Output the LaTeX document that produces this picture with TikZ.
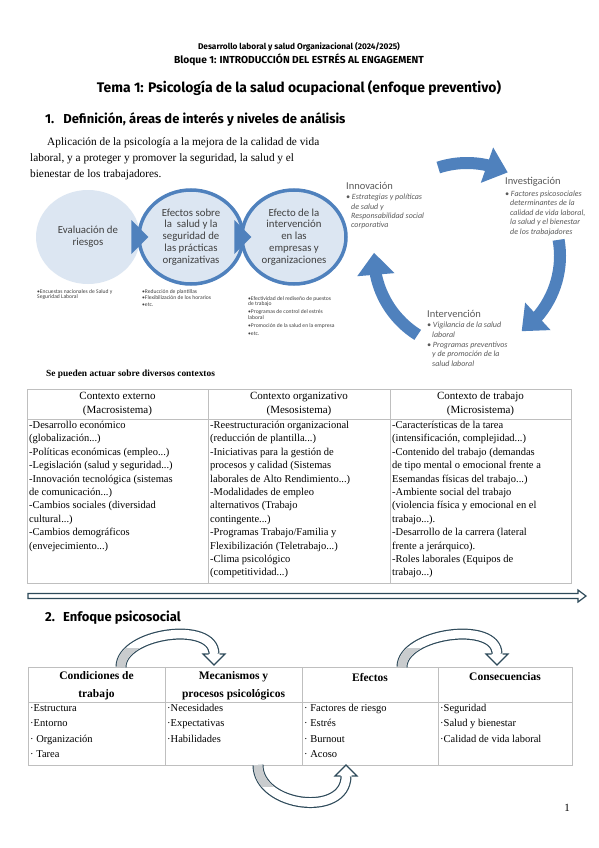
\documentclass[tikz,border=0pt]{standalone}
\usepackage{fontspec}
\setmainfont{Liberation Serif}
\newfontfamily\calibri{Carlito}
\newfontfamily\headfont{Fira Sans}
\usetikzlibrary{positioning,arrows.meta,bending,calc,shapes.geometric}
\definecolor{ringblue}{HTML}{4F81BD}
\definecolor{circfill}{HTML}{DCE6F2}
\definecolor{smarttext}{HTML}{404040}
\definecolor{cycletext}{HTML}{595959}
\definecolor{rulegray}{HTML}{BFBFBF}
\definecolor{slate}{HTML}{2E4A5A}
\definecolor{bandgray}{HTML}{C9CCCE}

\tikzset{
  stage/.style={ellipse, minimum width=104pt, minimum height=94pt, inner sep=0pt,
    fill=circfill, text=smarttext, align=center, font=\calibri\fontsize{10.8}{11.9}\selectfont},
  ringstage/.style={stage, draw=ringblue, line width=3.5pt},
  stagenote/.style={anchor=north west, inner sep=0pt, align=left, text=smarttext,
    font=\calibri\fontsize{5.6}{5.9}\selectfont},
  cyclearrow/.style={draw=ringblue, line width=12pt, -{Triangle[width=36pt,length=22pt]}},
  cyclehead/.style={anchor=west, inner sep=0pt, text=cycletext, font=\calibri\fontsize{10.5}{12}\selectfont},
  cyclenote/.style={anchor=north west, inner sep=0pt, align=left, text=cycletext,
    font=\calibri\itshape\fontsize{8}{9.4}\selectfont},
  tablerule/.style={draw=rulegray, line width=0.6pt},
  colhead/.style={align=center, inner sep=0pt, font=\fontsize{11}{14}\selectfont},
  colbody/.style={anchor=north west, align=left, inner sep=0pt, font=\fontsize{10.5}{13.4}\selectfont},
  psyhead/.style={align=center, inner sep=0pt, font=\bfseries\fontsize{11.5}{18}\selectfont},
  psybody/.style={anchor=north west, align=left, inner sep=0pt, font=\fontsize{10.5}{15.5}\selectfont},
  bandline/.style={draw=slate, line width=11pt},
  bandfill/.style={draw=white, line width=8.6pt},
  bandback/.style={draw=bandgray, line width=8.6pt},
}

\begin{document}
\begin{tikzpicture}[x=1pt,y=1pt]
\useasboundingbox[fill=white] (0,0) rectangle (599,-848);

% titles
\node[font=\headfont\bfseries\fontsize{8.3}{9}\selectfont] (curso) at (299,-47)
  {Desarrollo laboral y salud Organizacional (2024/2025)};
\node[font=\headfont\bfseries\fontsize{10.2}{11}\selectfont] (bloque) at (299,-60)
  {Bloque 1: INTRODUCCIÓN DEL ESTRÉS AL ENGAGEMENT};
\node[font=\headfont\bfseries\fontsize{13.9}{15}\selectfont] (tema) at (299,-88)
  {Tema 1: Psicología de la salud ocupacional (enfoque preventivo)};
\node[anchor=west, inner sep=0pt, font=\headfont\bfseries\fontsize{13}{14}\selectfont] (sec1) at (45,-120)
  {1.\hspace{9pt}Definición, áreas de interés y niveles de análisis};

\node[anchor=north west, align=left, inner sep=0pt, font=\fontsize{11.3}{16}\selectfont] (definicion) at (30,-137)
  {\hspace*{17pt}Aplicación de la psicología a la mejora de la calidad de vida\\
   laboral, y a proteger y promover la seguridad, la salud y el\\
   bienestar de los trabajadores.};

% niveles de analisis
\node[stage] (riesgos) at (88,-237) {Evaluación de\\riesgos};
\node[ringstage] (practicas) at (191,-237)
  {Efectos sobre\\la\ \ salud y la\\seguridad de\\las prácticas\\organizativas};
\node[ringstage] (empresas) at (294,-237)
  {Efecto de la\\intervención\\en las\\empresas y\\organizaciones};
\fill[ringblue] ($(practicas.west)+(-6,17)$) -- ($(practicas.west)+(11,0)$) -- ($(practicas.west)+(-6,-17)$) -- cycle;
\fill[ringblue] ($(empresas.west)+(-6,17)$) -- ($(empresas.west)+(11,0)$) -- ($(empresas.west)+(-6,-17)$) -- cycle;

\node[stagenote] (encuestas) at (37,-289) {•Encuestas nacionales de Salud y\\Seguridad Laboral};
\node[stagenote] (plantillas) at (142,-289)
  {•Reducción de plantillas\\[1pt]•Flexibilización de los horarios\\[1pt]•etc.};
\node[stagenote] (rediseno) at (248,-296)
  {•Efectividad del rediseño de puestos\\de trabajo\\[2pt]•Programas de control del estrés\\laboral\\[2pt]
   •Promoción de la salud en la empresa\\[2pt]•etc.};

% ciclo
\coordinate (ciclo) at (467,-256);
\draw[cyclearrow] ($(ciclo)+(108:93)$) arc[start angle=108, end angle=64, radius=93];
\draw[cyclearrow] ($(ciclo)+(10:93)$) arc[start angle=10, end angle=-54, radius=93];
\draw[cyclearrow] ($(ciclo)+(238:93)$) arc[start angle=238, end angle=178, radius=93];

\node[cyclehead] (innovacion) at (346,-186) {Innovación};
\node[cyclenote, below right=4pt and 0pt of innovacion.south west]
  (estrategias) {• Estrategias y políticas\\\hspace*{5pt}de salud y\\\hspace*{5pt}Responsabilidad social\\\hspace*{5pt}corporativa};
\node[cyclehead] (investigacion) at (505,-182) {Investigación};
\node[cyclenote, below right=4pt and 0pt of investigacion.south west]
  (factores) {• Factores psicosociales\\\hspace*{5pt}determinantes de la\\\hspace*{5pt}calidad de vida laboral,\\
  \hspace*{5pt}la salud y el bienestar\\\hspace*{5pt}de los trabajadores};
\node[cyclehead] (intervencion) at (427,-314) {Intervención};
\node[cyclenote, below right=4pt and 0pt of intervencion.south west]
  (vigilancia) {• Vigilancia de la salud\\\hspace*{5pt}laboral\\[1pt]• Programas preventivos\\
  \hspace*{5pt}y de promoción de la\\\hspace*{5pt}salud laboral};

% contextos
\node[anchor=west, inner sep=0pt, font=\bfseries\fontsize{9.4}{11}\selectfont] (contextos) at (46,-374)
  {Se pueden actuar sobre diversos contextos};

\draw[tablerule] (27,-389) rectangle (571,-583);
\draw[tablerule] (27,-419) -- (571,-419);
\draw[tablerule] (208,-389) -- (208,-583);
\draw[tablerule] (390,-389) -- (390,-583);

\node[colhead] (macro) at (117.5,-404) {Contexto externo\\(Macrosistema)};
\node[colhead] (meso) at (299,-404) {Contexto organizativo\\(Mesosistema)};
\node[colhead] (micro) at (480.5,-404) {Contexto de trabajo\\(Microsistema)};

\node[colbody] (externo) at (29,-421)
  {-Desarrollo económico\\(globalización...)\\-Políticas económicas (empleo...)\\
   -Legislación (salud y seguridad...)\\-Innovación tecnológica (sistemas\\
   de comunicación...)\\-Cambios sociales (diversidad\\cultural...)\\
   -Cambios demográficos\\(envejecimiento...)};
\node[colbody] (organizativo) at (210,-421)
  {-Reestructuración organizacional\\(reducción de plantilla...)\\
   -Iniciativas para la gestión de\\procesos y calidad (Sistemas\\
   laborales de Alto Rendimiento...)\\-Modalidades de empleo\\alternativos (Trabajo\\
   contingente...)\\-Programas Trabajo/Familia y\\Flexibilización (Teletrabajo...)\\
   -Clima psicológico\\(competitividad...)};
\node[colbody] (trabajo) at (392,-421)
  {-Características de la tarea\\(intensificación, complejidad...)\\
   -Contenido del trabajo (demandas\\de tipo mental o emocional frente a\\
   Esemandas físicas del trabajo...)\\-Ambiente social del trabajo\\
   (violencia física y emocional en el\\trabajo...).\\
   -Desarrollo de la carrera (lateral\\frente a jerárquico).\\
   -Roles laborales (Equipos de\\trabajo...)};

\draw[slate, line width=1.2pt, fill=white] (28,-593.5) -- (578,-593.5) -- (578,-590)
  -- (586,-596) -- (578,-602) -- (578,-598.5) -- (28,-598.5) -- cycle;

% enfoque psicosocial
\node[anchor=west, inner sep=0pt, font=\headfont\bfseries\fontsize{13}{14}\selectfont] (sec2) at (45,-618)
  {2.\hspace{8pt}Enfoque psicosocial};

\draw[tablerule] (28,-667) rectangle (572,-765);
\draw[tablerule] (28,-702) -- (572,-702);
\foreach \x in {165,302,438} \draw[tablerule] (\x,-667) -- (\x,-765);

\node[psyhead] (condiciones) at (96.5,-686) {Condiciones de\\trabajo};
\node[psyhead] (mecanismos) at (233.5,-686) {Mecanismos y\\procesos psicológicos};
\node[psyhead] (efectos) at (370,-677) {Efectos};
\node[psyhead] (consecuencias) at (505,-677) {Consecuencias};

\node[psybody] (estructura) at (30,-704) {·Estructura\\·Entorno\\· Organización\\· Tarea};
\node[psybody] (necesidades) at (167,-704) {·Necesidades\\·Expectativas\\·Habilidades};
\node[psybody] (riesgo) at (304,-704) {· Factores de riesgo\\· Estrés\\· Burnout\\· Acoso};
\node[psybody] (seguridad) at (440,-704) {·Seguridad\\·Salud y bienestar\\·Calidad de vida laboral};

% flechas curvas
\coordinate (c1a) at (121,-667);
\coordinate (c1b) at (214,-654);
\coordinate (c2a) at (402,-667);
\coordinate (c2b) at (497,-654);
\coordinate (c3a) at (258,-765);
\coordinate (c3b) at (346,-776);

\draw[bandline] (c1a) .. controls +(0,34) and +(0,34) .. (c1b);
\draw[bandfill] (c1a) .. controls +(0,34) and +(0,34) .. (c1b);
\begin{scope}
\clip (100,-667) rectangle (140,-648);
\draw[bandback] (c1a) .. controls +(0,34) and +(0,34) .. (c1b);
\end{scope}
\fill[white] ($(c1b)+(-11,0)$) -- ($(c1b)+(0,-11)$) -- ($(c1b)+(11,0)$) -- cycle;
\draw[slate, line width=1.2pt] ($(c1b)+(-5.5,0)$) -- ($(c1b)+(-11,0)$) -- ($(c1b)+(0,-11)$)
  -- ($(c1b)+(11,0)$) -- ($(c1b)+(5.5,0)$);

\draw[bandline] (c2a) .. controls +(0,34) and +(0,34) .. (c2b);
\draw[bandfill] (c2a) .. controls +(0,34) and +(0,34) .. (c2b);
\begin{scope}
\clip (380,-667) rectangle (420,-648);
\draw[bandback] (c2a) .. controls +(0,34) and +(0,34) .. (c2b);
\end{scope}
\fill[white] ($(c2b)+(-11,0)$) -- ($(c2b)+(0,-11)$) -- ($(c2b)+(11,0)$) -- cycle;
\draw[slate, line width=1.2pt] ($(c2b)+(-5.5,0)$) -- ($(c2b)+(-11,0)$) -- ($(c2b)+(0,-11)$)
  -- ($(c2b)+(11,0)$) -- ($(c2b)+(5.5,0)$);

\draw[bandline] (c3a) .. controls +(0,-42) and +(0,-42) .. (c3b);
\draw[bandfill] (c3a) .. controls +(0,-42) and +(0,-42) .. (c3b);
\begin{scope}
\clip (240,-765) rectangle (280,-786);
\draw[bandback] (c3a) .. controls +(0,-42) and +(0,-42) .. (c3b);
\end{scope}
\fill[white] ($(c3b)+(-11,0)$) -- ($(c3b)+(0,11)$) -- ($(c3b)+(11,0)$) -- cycle;
\draw[slate, line width=1.2pt] ($(c3b)+(-5.5,0)$) -- ($(c3b)+(-11,0)$) -- ($(c3b)+(0,11)$)
  -- ($(c3b)+(11,0)$) -- ($(c3b)+(5.5,0)$);

\node[font=\fontsize{11}{13}\selectfont] (pagina) at (567,-808) {1};
\end{tikzpicture}
\end{document}
